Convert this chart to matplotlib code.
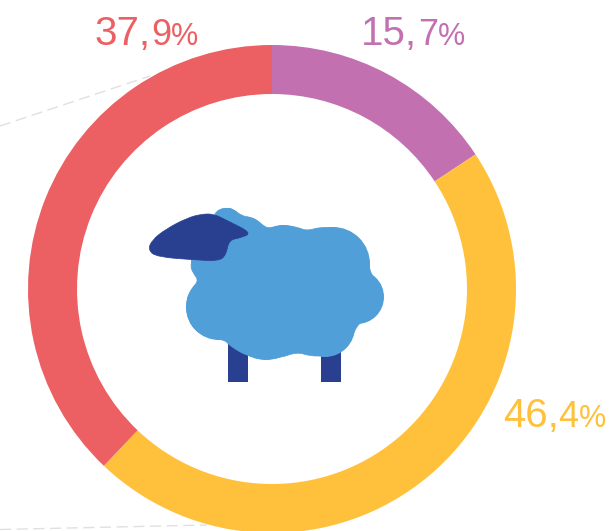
import matplotlib.pyplot as plt
from matplotlib.patches import Circle, PathPatch, Rectangle
from matplotlib.path import Path

plt.rcParams['font.family'] = ['Liberation Sans', 'DejaVu Sans']

# Chart values, clockwise from the top
shares = [15.7, 46.4, 37.9]
whole_labels = ['15,', '46,', '37,']
decimal_labels = ['7', '4', '9']
colors = ['#C270B0', '#FFC13B', '#EC5F63']

W, H = 610, 531


def flip(y):
    # picture coordinates run downwards, the axes run upwards
    return H - y


def smooth_patch(points, color, zorder):
    # closed outline, rounded with quadratic curves through the midpoints
    pts = [(x, flip(y)) for x, y in points]
    mids = [((a[0] + b[0]) / 2, (a[1] + b[1]) / 2) for a, b in zip(pts, pts[1:] + pts[:1])]
    verts = [mids[-1]]
    codes = [Path.MOVETO]
    for p, m in zip(pts, mids):
        verts += [p, m]
        codes += [Path.CURVE3, Path.CURVE3]
    return PathPatch(Path(verts, codes), facecolor=color, edgecolor=color,
                     linewidth=0.5, zorder=zorder)


fig = plt.figure(figsize=(W / 100, H / 100), dpi=100)
ax = fig.add_axes([0, 0, 1, 1])

ax.pie(shares, colors=colors, startangle=90, counterclock=False,
       radius=244, center=(272, flip(289)),
       wedgeprops={'width': 49, 'linewidth': 0})

# Faint dashed lines running behind the ring
for xs, ys in [((0, 150), (126, 76)), ((0, 207), (529.5, 525))]:
    ax.plot(xs, [flip(y) for y in ys], color='#e0e0e0', linewidth=1,
            dashes=(8, 4), zorder=0)

# Percent labels: whole part, slightly smaller decimal, smaller percent sign
label_pos = [(361, 418, 438, 45), (503, 558, 579, 427), (94, 151, 171, 45)]
for whole, dec, col, (x1, x2, x3, y) in zip(whole_labels, decimal_labels, colors, label_pos):
    ax.text(x1, flip(y), whole, color=col, fontsize=29, ha='left', va='baseline')
    ax.text(x2, flip(y), dec, color=col, fontsize=26, ha='left', va='baseline')
    ax.text(x3, flip(y), '%', color=col, fontsize=22, ha='left', va='baseline')

# Sheep icon
blue = '#519FD8'
navy = '#28408F'
for x in (228, 321):
    ax.add_patch(Rectangle((x, flip(382)), 20, 40, facecolor=navy, edgecolor='none', zorder=3))

wool = [(215, 213), (220, 209), (227, 208), (233, 209), (242, 216), (250, 217), (258, 221),
        (265, 227), (270, 228), (283, 225), (297, 227), (307, 231), (320, 227), (337, 228),
        (350, 235), (362, 247), (368, 260), (371, 275), (378, 282), (383, 292), (382, 303),
        (375, 315), (358, 323), (352, 338), (340, 349), (323, 356), (310, 356), (297, 352),
        (280, 358), (263, 359), (247, 356), (230, 346), (225, 340), (210, 338), (197, 332),
        (188, 320), (186, 305), (189, 292), (199, 281), (193, 273), (190, 265), (197, 240)]
ax.add_patch(smooth_patch(wool, blue, 4))

# Rounded lobes on top of the outline so the fleece stays full
lobes = [(227, 221, 13), (247, 235, 18), (221, 258, 30), (219, 307, 33), (283, 254, 29),
         (333, 264, 37), (357, 297, 27), (325, 327, 30), (266, 322, 38)]
for cx, cy, r in lobes:
    ax.add_patch(Circle((cx, flip(cy)), r, facecolor=blue, edgecolor='none', zorder=4))

face = [(148, 250), (152, 240), (166, 229), (187, 218), (202, 214), (214, 214), (228, 221),
        (252, 233), (240, 238), (229, 240), (226, 255), (219, 261), (197, 260), (157, 257)]
ax.add_patch(smooth_patch(face, navy, 5))

ax.set_xlim(0, W)
ax.set_ylim(0, H)
ax.set_aspect('equal')
ax.axis('off')

fig.savefig('out.png', dpi=100, facecolor='white')
